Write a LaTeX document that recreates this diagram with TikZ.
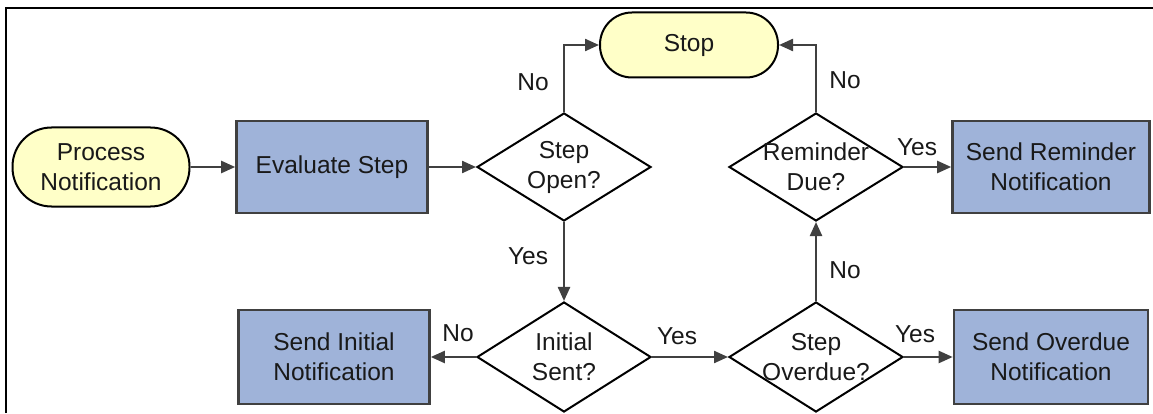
\documentclass[tikz,border=0pt]{standalone}
\usepackage{fontspec}
\setmainfont{Liberation Sans}
\usepackage{tikz}
\usetikzlibrary{arrows.meta,shapes.geometric}
\definecolor{boxblue}{HTML}{9FB3D9}
\definecolor{termyellow}{HTML}{FFFFC8}
\definecolor{edge}{HTML}{404040}
\begin{document}
\begin{tikzpicture}[x=1pt,y=1pt,
  font=\fontsize{24.5}{30}\selectfont,
  every node/.style={align=center,text=black!90},
  term/.style={draw=black,line width=2pt,fill=termyellow,inner sep=0pt},
  act/.style={draw=edge,line width=2.6pt,fill=boxblue,inner sep=0pt,
    minimum width=191pt,minimum height=92pt},
  test/.style={diamond,draw=black,line width=2pt,fill=white,inner sep=-24pt,
    minimum width=174pt,minimum height=108pt},
  flow/.style={draw=edge,line width=2.3pt,-{Triangle[length=14pt,width=12pt]}},
  lbl/.style={inner sep=0pt}]
  \useasboundingbox (0,0) rectangle (1153,413);
  % frame of the screenshot
  \draw[line width=1.4pt] (6,0) -- (6,405) -- (1153,405);
  % nodes
  \node[term,rounded corners=39pt,minimum width=177pt,minimum height=79pt] (proc) at (101,246) {Process\\Notification};
  \node[act] (eval) at (332,246) {Evaluate Step};
  \node[test] (open) at (564,246) {Step\\Open?};
  \node[term,rounded corners=32pt,minimum width=178pt,minimum height=65pt] (stop) at (689,368) {Stop};
  \node[test] (remind) at (816,246) {Reminder\\Due?};
  \node[act,minimum width=197pt] (sendrem) at (1051,246) {Send Reminder\\Notification};
  \node[test,minimum height=110pt] (initial) at (564,56) {Initial\\Sent?};
  \node[act,minimum height=94pt] (sendinit) at (334,56) {Send Initial\\Notification};
  \node[test,minimum height=110pt] (overdue) at (816,56) {Step\\Overdue?};
  \node[act,minimum width=194pt,minimum height=94pt] (sendover) at (1051,56) {Send Overdue\\Notification};
  % connectors
  \draw[flow] (proc) -- (eval);
  \draw[flow] (eval) -- (open);
  \draw[flow] (open.north) |- (stop.west);
  \draw[flow] (remind.north) |- (stop.east);
  \draw[flow] (open) -- (initial);
  \draw[flow] (initial) -- (sendinit);
  \draw[flow] (initial) -- (overdue);
  \draw[flow] (overdue) -- (remind);
  \draw[flow] (overdue) -- (sendover);
  \draw[flow] (remind) -- (sendrem);
  % branch labels
  \node[lbl] (noopen) at (533,331) {No};
  \node[lbl] (yesopen) at (528,157) {Yes};
  \node[lbl] (noremind) at (845,333) {No};
  \node[lbl] (yesremind) at (917,266) {Yes};
  \node[lbl] (noinitial) at (458,80) {No};
  \node[lbl] (yesinitial) at (677,77) {Yes};
  \node[lbl] (nooverdue) at (845,143) {No};
  \node[lbl] (yesoverdue) at (915,79) {Yes};
\end{tikzpicture}
\end{document}
